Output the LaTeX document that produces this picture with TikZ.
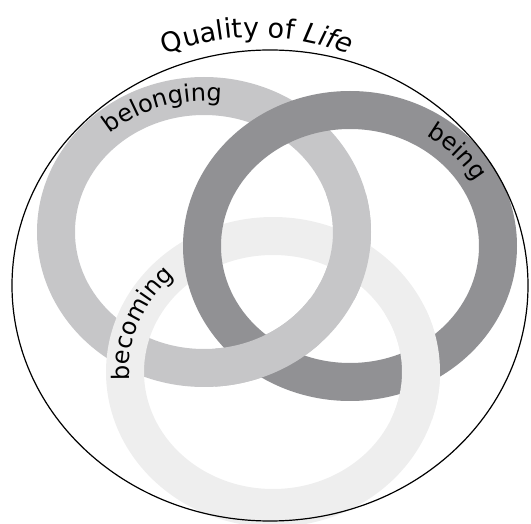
\documentclass[tikz,border=0pt]{standalone}
\usepackage{fontspec}
\setmainfont{DejaVu Sans}
\usetikzlibrary{decorations.text}
\definecolor{belongC}{RGB}{198,198,200}
\definecolor{beingC}{RGB}{145,145,148}
\definecolor{becomeC}{RGB}{238,238,238}
\newcommand\ttlfont{\fontsize{27}{27}\selectfont}
\newcommand\lblfont{\fontsize{24}{24}\selectfont}
\tikzset{
  ringfill/.style={fill=#1, even odd rule},
  outer/.style={x radius=167pt, y radius=155pt},
  inner/.style={x radius=129pt, y radius=117pt},
  frame/.style={draw=black, line width=1.2pt},
  curvelabel/.style={decorate, decoration={text along path, text align=center, text={#1}}}
}
\begin{document}
\begin{tikzpicture}[x=1pt,y=1pt]
\useasboundingbox (0,0) rectangle (531,523);
\clip (0,0) rectangle (531,523);
\coordinate (qol) at (270,237.5);
\coordinate (bel) at (204,291);
\coordinate (bei) at (350,277);
\coordinate (bec) at (273,151);
\coordinate (ttl) at (257,236);
% full rings
\fill[ringfill=belongC] (bel) ellipse[outer] (bel) ellipse[inner];
\fill[ringfill=becomeC] (bec) ellipse[outer] (bec) ellipse[inner];
\fill[ringfill=beingC] (bei) ellipse[outer] (bei) ellipse[inner];
% interlocking corrections
\begin{scope}
  \clip (215,108) rectangle (320,223);
  \fill[ringfill=belongC] (bel) ellipse[outer] (bel) ellipse[inner];
\end{scope}
\begin{scope}
  \clip (315,223) rectangle (385,328);
  \fill[ringfill=belongC] (bel) ellipse[outer] (bel) ellipse[inner];
\end{scope}
\begin{scope}
  \clip (385,103) rectangle (470,213);
  \fill[ringfill=becomeC] (bec) ellipse[outer] (bec) ellipse[inner];
\end{scope}
% outer circle
\path[frame] (qol) ellipse[x radius=258pt, y radius=235.5pt];
% labels
\path[curvelabel={|\ttlfont|Quality of |\ttlfont\itshape|Life}]
  ([shift={(120:250pt)}]ttl) arc[start angle=120, end angle=60, radius=250pt];
\path[curvelabel={|\lblfont|belonging}]
  ([shift={(150:143pt and 131pt)}]bel) arc[start angle=150, end angle=65, x radius=143pt, y radius=131pt];
\path[curvelabel={|\lblfont|being}]
  ([shift={(73:143pt and 131pt)}]bei) arc[start angle=73, end angle=13, x radius=143pt, y radius=131pt];
\path[curvelabel={|\lblfont|becoming}]
  ([shift={(205:144pt and 132pt)}]bec) arc[start angle=205, end angle=113, x radius=144pt, y radius=132pt];
\end{tikzpicture}
\end{document}
